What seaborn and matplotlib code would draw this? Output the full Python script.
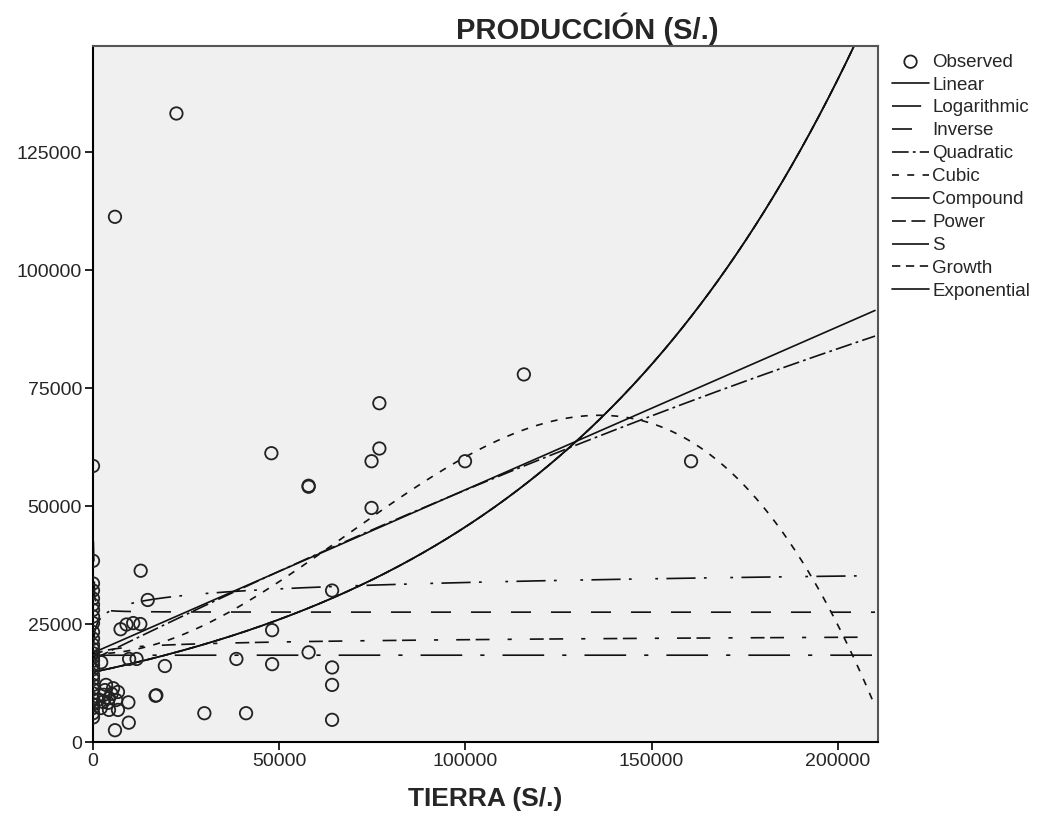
import numpy as np
import pandas as pd
import matplotlib
matplotlib.use("Agg")
import matplotlib.pyplot as plt
import seaborn as sns

# ---------------- DATA ----------------
axis_y = [58500, 38400, 33600, 32100, 30400, 29100, 28000, 26600, 25200, 23300,
          21900, 20600, 19700, 18800, 18000, 17200, 16300, 15400, 14200, 13300,
          12100, 11200, 10300, 9100, 8000, 7200, 6100, 5200]
other_x = [22400, 5900, 12800, 14700, 7400, 9000, 10800, 12700, 2200, 9700,
           11700, 19300, 38500, 16800, 17000, 9500, 29900, 41100, 9600, 5900,
           3500, 5400, 6700, 2900, 4300, 6200, 2700, 4000, 2100, 4300,
           6700, 3200, 5000, 1500, 47900, 76900, 76900, 74800, 57900, 57900,
           74800, 64200, 48100, 48100, 57900, 64200, 64200, 64200, 99900, 115700,
           160600]
other_y = [133200, 111300, 36300, 30100, 23900, 24900, 25200, 25000, 16900, 17600,
           17600, 16100, 17600, 9800, 9900, 8400, 6100, 6100, 4100, 2500,
           12100, 11400, 10600, 10000, 9300, 8900, 8500, 8300, 7200, 6800,
           6800, 11000, 10200, 9000, 61200, 71800, 62200, 59500, 54100, 54300,
           49600, 32100, 23700, 16500, 19000, 15800, 12100, 4700, 59500, 77900,
           59500]

# fitted-model coefficients
linear_coef = [18900, 0.3455]                      # b0 + b1*x
log_coef = [11353, 1950]                           # b0 + b1*ln(x)
inverse_coef = [27500, 1.5e6]                      # b0 + b1/x
quadratic_coef = [17500, 0.3886, -2.967e-7]        # b0 + b1 x + b2 x^2
cubic_coef = [18700, -0.00865, 8.321e-6, -4.0625e-11]
compound_coef = [14800, 1.0000112506]              # b0 * b1^x
power_coef = [14830, 0.033]                        # b0 * x^b1
s_coef = [9.8200, -2.0]                            # exp(b0 + b1/x)
growth_coef = [9.6024, 1.125e-5]                   # exp(b0 + b1 x)
expo_coef = [14800, 1.125e-5]                      # b0 * exp(b1 x)

x_range = [0, 210000]
labels = ["Observed", "Linear", "Logarithmic", "Inverse", "Quadratic", "Cubic",
          "Compound", "Power", "S", "Growth", "Exponential"]

# ---------------- FIGURE ----------------
plt.rcParams["lines.scale_dashes"] = False
sns.set_style("white")
plt.rcParams["font.family"] = ["Liberation Sans", "DejaVu Sans"]

fig = plt.figure(figsize=(10.43, 8.21), dpi=100)
ax = fig.add_axes([93 / 1043, 1 - 742 / 821, (878 - 93) / 1043, (742 - 46) / 821])
ax.set_facecolor("#F0F0F0")

obs = pd.DataFrame({"x": [0] * len(axis_y) + other_x, "y": axis_y + other_y})
sns.scatterplot(data=obs, x="x", y="y", ax=ax, marker="o", s=80,
                facecolor="none", edgecolor="#222222", linewidth=1.3,
                label=labels[0], zorder=3)

xs = np.linspace(x_range[0], x_range[1], 600)
xp = np.linspace(100, x_range[1], 600)

curves = [
    ("Linear", xs, linear_coef[0] + linear_coef[1] * xs, "-"),
    ("Logarithmic", xp, log_coef[0] + log_coef[1] * np.log(xp), (0, (21, 6, 2, 17, 2, 6))),
    ("Inverse", xp, inverse_coef[0] + inverse_coef[1] / xp, (0, (14.4, 14.4))),
    ("Quadratic", xs, quadratic_coef[0] + quadratic_coef[1] * xs + quadratic_coef[2] * xs ** 2,
     (0, (12, 3, 2, 3))),
    ("Cubic", xs, cubic_coef[0] + cubic_coef[1] * xs + cubic_coef[2] * xs ** 2 + cubic_coef[3] * xs ** 3,
     (0, (5, 6))),
    ("Compound", xs, compound_coef[0] * compound_coef[1] ** xs, "-"),
    ("Power", xp, power_coef[0] * xp ** power_coef[1], (0, (10, 4, 10, 13, 3, 13))),
    ("S", xp, np.exp(s_coef[0] + s_coef[1] / xp), (0, (30, 13, 3, 13))),
    ("Growth", xs, np.exp(growth_coef[0] + growth_coef[1] * xs), (0, (6, 4))),
    ("Exponential", xs, expo_coef[0] * np.exp(expo_coef[1] * xs), "-"),
]

for name, cx, cy, ls in curves:
    sns.lineplot(x=cx, y=cy, ax=ax, color="#111111", linewidth=1.2,
                 linestyle=ls, label=name, estimator=None, sort=False, zorder=2)

ax.set_xlim(0, 210800)
ax.set_ylim(0, 147500)
ax.set_xticks([0, 50000, 100000, 150000, 200000])
ax.set_yticks([0, 25000, 50000, 75000, 100000, 125000])
ax.tick_params(axis="both", direction="out", length=6, width=1.2, color="black",
               labelsize=14, bottom=True, left=True, pad=2)

for side in ["left", "bottom"]:
    ax.spines[side].set_color("black")
    ax.spines[side].set_linewidth(1.5)
for side in ["top", "right"]:
    ax.spines[side].set_color("#555555")
    ax.spines[side].set_linewidth(1.5)

ax.set_xlabel("TIERRA (S/.)", fontsize=19, fontweight="bold", labelpad=12)
ax.set_ylabel("")
fig.text(587 / 1043, 1 - 29 / 821, "PRODUCCIÓN (S/.)", ha="center", va="center",
         fontsize=21, fontweight="bold")

handles, labs = ax.get_legend_handles_labels()
order = [labs.index(l) for l in labels]
ax.legend([handles[i] for i in order], [labs[i] for i in order],
          loc="upper left", bbox_to_anchor=(1.008, 1.0), frameon=False,
          fontsize=13.5, handlelength=2.0, handletextpad=0.15, labelspacing=0.31,
          borderaxespad=0.2, borderpad=0.2)

fig.savefig("out.png", dpi=100, facecolor="white")
